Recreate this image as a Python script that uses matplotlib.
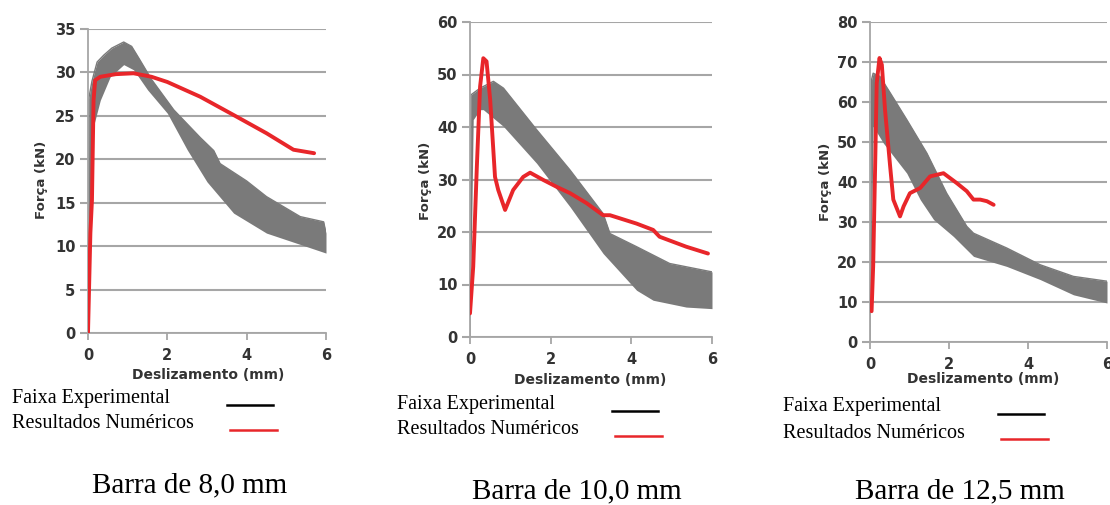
import numpy as np
import matplotlib.pyplot as plt
from matplotlib.lines import Line2D

W, H = 1110, 505

# Barra de 8,0 mm
x_up_8 = [0.0, 0.02, 0.1, 0.23, 0.4, 0.6, 0.9, 1.1, 1.3, 1.6, 2.16, 2.83, 3.17, 3.33, 4.0, 4.5, 5.35, 5.94, 6.0]
y_up_8 = [0.0, 27.0, 29.0, 31.2, 32.0, 32.8, 33.5, 33.0, 31.5, 29.2, 25.7, 22.5, 21.0, 19.5, 17.5, 15.7, 13.4, 12.8, 11.5]
x_lo_8 = [0.0, 0.05, 0.15, 0.31, 0.56, 0.9, 1.15, 1.5, 2.0, 2.5, 3.0, 3.67, 4.5, 5.35, 6.0]
y_lo_8 = [0.0, 15.0, 24.0, 26.8, 29.5, 30.9, 30.3, 28.0, 25.3, 21.1, 17.4, 13.8, 11.5, 10.2, 9.2]
x_num_8 = [0.0, 0.06, 0.1, 0.14, 0.18, 0.31, 0.7, 1.15, 1.6, 2.0, 2.83, 3.67, 4.5, 5.18, 5.7]
y_num_8 = [0.0, 11.5, 15.3, 26.8, 29.1, 29.5, 29.8, 29.9, 29.5, 28.9, 27.2, 25.1, 23.0, 21.1, 20.7]

# Barra de 10,0 mm
x_up_10 = [0.0, 0.02, 0.25, 0.58, 0.83, 1.65, 2.48, 3.3, 3.47, 4.13, 4.95, 6.0]
y_up_10 = [0.0, 46.1, 47.4, 48.7, 47.4, 39.5, 31.8, 23.5, 19.7, 17.2, 14.0, 12.4]
x_lo_10 = [0.0, 0.08, 0.25, 0.33, 0.83, 1.65, 2.48, 3.3, 4.13, 4.54, 5.36, 6.0]
y_lo_10 = [0.0, 41.4, 43.3, 43.3, 40.1, 33.1, 24.8, 15.9, 8.9, 7.0, 5.7, 5.4]
x_num_10 = [0.0, 0.08, 0.17, 0.25, 0.33, 0.41, 0.5, 0.62, 0.7, 0.87, 1.07, 1.32, 1.49, 1.82, 2.15,
            2.48, 2.89, 3.3, 3.47, 4.13, 4.54, 4.7, 5.36, 5.9]
y_num_10 = [4.5, 13.4, 32.5, 47.7, 53.1, 52.5, 45.2, 30.5, 28.0, 24.2, 28.0, 30.5, 31.3, 29.9, 28.6,
            27.4, 25.5, 23.2, 23.2, 21.6, 20.4, 19.1, 17.2, 15.9]

# Barra de 12,5 mm
x_up_12 = [0.0, 0.04, 0.08, 0.25, 0.51, 0.93, 1.44, 1.94, 2.45, 2.62, 3.46, 4.31, 5.15, 6.0]
y_up_12 = [0.0, 65.6, 67.2, 66.4, 62.3, 55.6, 47.2, 37.2, 28.9, 27.2, 23.5, 19.3, 16.4, 15.2]
x_lo_12 = [0.0, 0.08, 0.34, 0.93, 1.27, 1.61, 2.11, 2.62, 3.46, 4.31, 5.15, 6.0]
y_lo_12 = [0.0, 53.9, 49.7, 42.2, 35.6, 30.6, 26.4, 21.4, 18.9, 15.6, 11.8, 9.75]
x_num_12 = [0.04, 0.08, 0.13, 0.17, 0.24, 0.3, 0.38, 0.51, 0.59, 0.76, 0.85, 1.01, 1.27, 1.52, 1.86,
            2.2, 2.45, 2.62, 2.79, 2.96, 3.13]
y_num_12 = [7.7, 18.9, 43.9, 64.7, 71.0, 69.3, 58.1, 43.9, 35.6, 31.4, 33.9, 37.2, 38.5, 41.4, 42.2,
            39.7, 37.7, 35.6, 35.6, 35.2, 34.3]

y_ticks_8 = [0, 5, 10, 15, 20, 25, 30, 35]
y_ticks_10 = [0, 10, 20, 30, 40, 50, 60]
y_ticks_12 = [0, 10, 20, 30, 40, 50, 60, 70, 80]
x_ticks = [0, 2, 4, 6]

titles = ["Barra de 8,0 mm", "Barra de 10,0 mm", "Barra de 12,5 mm"]
leg_labels = ["Faixa Experimental", "Resultados Numéricos"]

panels = [
    # axes box in pixels (left, top, right, bottom) and where the loose texts sit
    dict(box=(88, 29, 326, 333), ylab=(42, 180), xlab=(208, 375), leg=(12, 398), title=(190, 485),
         up=(x_up_8, y_up_8), lo=(x_lo_8, y_lo_8), num=(x_num_8, y_num_8), yt=y_ticks_8),
    dict(box=(470, 22, 712, 337), ylab=(425, 181), xlab=(590, 380), leg=(397, 404), title=(577, 491),
         up=(x_up_10, y_up_10), lo=(x_lo_10, y_lo_10), num=(x_num_10, y_num_10), yt=y_ticks_10),
    dict(box=(870, 22, 1107, 342), ylab=(825, 182), xlab=(983, 379), leg=(783, 407), title=(960, 491),
         up=(x_up_12, y_up_12), lo=(x_lo_12, y_lo_12), num=(x_num_12, y_num_12), yt=y_ticks_12),
]

def fx(px):
    return px / W

def fy(py):
    return 1 - py / H

fig = plt.figure(figsize=(W / 100, H / 100), dpi=100)
fig.patch.set_facecolor('white')

grid_c = '#a6a6a6'
band_c = '#7a7a7a'
red_c = '#e8262a'
tick_c = '#333333'

for i, p in enumerate(panels):
    l, t, r, b = p['box']
    ax = fig.add_axes([fx(l), fy(b), (r - l) / W, (b - t) / H])
    yt = p['yt']
    ax.set_xlim(0, 6)
    ax.set_ylim(0, yt[-1])

    # experimental band between upper and lower envelope
    xs = np.linspace(0, 6, 600)
    upper = np.interp(xs, *p['up'])
    lower = np.interp(xs, *p['lo'])
    ax.fill_between(xs, lower, upper, color=band_c, lw=0, zorder=2)
    ax.plot(p['up'][0], p['up'][1], color=band_c, lw=1.0, zorder=2)

    ax.plot(p['num'][0], p['num'][1], color=red_c, lw=2.8, solid_capstyle='round',
            solid_joinstyle='round', zorder=3)

    ax.set_yticks(yt)
    ax.set_xticks(x_ticks)
    ax.yaxis.grid(True, color=grid_c, lw=1.5, zorder=0)
    ax.set_axisbelow(True)
    for s in ['top', 'right']:
        ax.spines[s].set_visible(False)
    for s in ['left', 'bottom']:
        ax.spines[s].set_color(grid_c)
        ax.spines[s].set_linewidth(1.3)
    ax.tick_params(axis='y', length=6, width=1.5, color=grid_c, pad=3,
                   labelsize=10.5, labelcolor=tick_c)
    ax.tick_params(axis='x', length=5, width=1.3, color=grid_c, pad=6,
                   labelsize=10.5, labelcolor=tick_c)
    for lab in ax.get_xticklabels() + ax.get_yticklabels():
        lab.set_fontweight('bold')

    fig.text(fx(p['ylab'][0]), fy(p['ylab'][1]), 'Força (kN)', rotation=90, ha='center', va='center',
             fontsize=9.5, fontweight='bold', color=tick_c)
    fig.text(fx(p['xlab'][0]), fy(p['xlab'][1]), 'Deslizamento (mm)', ha='center', va='center',
             fontsize=10, fontweight='bold', color=tick_c)

    lx, ly = p['leg']
    fig.text(fx(lx), fy(ly), leg_labels[0], ha='left', va='center', fontsize=14.5,
             family='Liberation Serif', color='black')
    fig.text(fx(lx), fy(ly + 26), leg_labels[1], ha='left', va='center', fontsize=14.5,
             family='Liberation Serif', color='black')
    fig.add_artist(Line2D([fx(lx + 215), fx(lx + 261)], [fy(ly + 7), fy(ly + 7)],
                          color='black', lw=1.8, transform=fig.transFigure))
    fig.add_artist(Line2D([fx(lx + 218), fx(lx + 265)], [fy(ly + 32), fy(ly + 32)],
                          color=red_c, lw=1.8, transform=fig.transFigure))

    fig.text(fx(p['title'][0]), fy(p['title'][1]), titles[i], ha='center', va='center',
             fontsize=21, family='Liberation Serif', color='black')

fig.savefig('out.png', dpi=100, facecolor='white')
